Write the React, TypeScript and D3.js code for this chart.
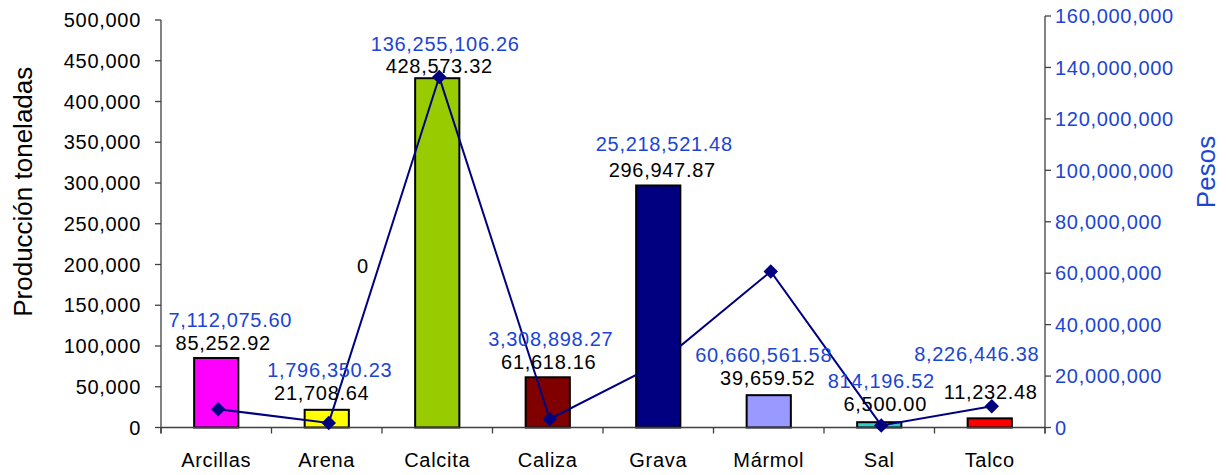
import React from "react";
import * as d3 from "d3";

const categories = ["Arcillas", "Arena", "Calcita", "Caliza", "Grava", "Mármol", "Sal", "Talco"];
const production = [85252.92, 21708.64, 428573.32, 61618.16, 296947.87, 39659.52, 6500.0, 11232.48];
const pesos = [7112075.6, 1796350.23, 136255106.26, 3308898.27, 25218521.48, 60660561.58, 814196.52, 8226446.38];
const barColors = ["#ff00ff", "#ffff00", "#99cc00", "#800000", "#000080", "#9999ff", "#33cccc", "#ff0000"];
const leftTicks = [0, 50000, 100000, 150000, 200000, 250000, 300000, 350000, 400000, 450000, 500000];
const rightTicks = [0, 20000000, 40000000, 60000000, 80000000, 100000000, 120000000, 140000000, 160000000];
const leftTitle = "Producción toneladas";
const rightTitle = "Pesos";
const strayLabel = "0";

// small manual label nudges (as in the original chart), [blackDx, blackDy, blueDx, blueDy]
const labelNudge: Record<string, [number, number, number, number]> = {
  Arcillas: [7, 0, 14, 0],
  Arena: [-5, -2, 3, 0],
  Calcita: [2, 3, 8, 1],
  Caliza: [1, 0, 3, 0],
  Grava: [4, 0, 6, -3],
  Mármol: [-1, -2, -5, 0],
  Sal: [6, -3, 2, 0],
  Talco: [1, -11, -13, -15],
};

const W = 1226;
const H = 475;
const X0 = 161;
const X1 = 1045;
const Y0 = 427.5;
const BLUE = "#1b45d3";
const FONT = "'Liberation Sans', Arial, sans-serif";

export default function App() {
  const x = d3
    .scaleBand<string>()
    .domain(categories)
    .range([X0, X1])
    .paddingInner(0.6)
    .paddingOuter(0.3);
  const step = x.step();
  const xc = (c: string) => (x(c) as number) + x.bandwidth() / 2;
  const yL = d3.scaleLinear().domain([0, 500000]).range([Y0, 20]);
  const yR = d3.scaleLinear().domain([0, 160000000]).range([Y0, 16]);

  const fmt2 = d3.format(",.2f");
  const fmt0 = d3.format(",");

  const line = d3
    .line<number>()
    .x((_, i) => xc(categories[i]) + 2)
    .y((d) => yR(d));

  const diamond = d3.symbol(d3.symbolSquare, 105)();

  const axisColor = "#404040";
  const txt = { fontFamily: FONT, fontSize: 20, letterSpacing: "0.7px" } as React.CSSProperties;

  return (
    <svg width={W} height={H} style={{ position: "absolute", left: 0, top: 0, background: "#fff" }}>
      {/* bars */}
      {categories.map((c, i) => (
        <rect
          key={c}
          x={x(c)}
          y={yL(production[i])}
          width={x.bandwidth()}
          height={Y0 - yL(production[i])}
          fill={barColors[i]}
          stroke="#000"
          strokeWidth={2}
        />
      ))}

      {/* axes */}
      <line x1={X0} x2={X1} y1={Y0} y2={Y0} stroke={axisColor} strokeWidth={1.3} />
      <line x1={X0} x2={X0} y1={yL(500000)} y2={Y0 + 6} stroke={axisColor} strokeWidth={1.3} />
      <line x1={X1} x2={X1} y1={yR(160000000)} y2={Y0 + 6} stroke={axisColor} strokeWidth={1.3} />
      {d3.range(categories.length + 1).map((i) => (
        <line key={"ct" + i} x1={X0 + i * step} x2={X0 + i * step} y1={Y0} y2={Y0 + 6} stroke={axisColor} strokeWidth={1.3} />
      ))}
      {leftTicks.map((t) => (
        <g key={"l" + t}>
          <line x1={X0 - 6} x2={X0} y1={yL(t)} y2={yL(t)} stroke={axisColor} strokeWidth={1.3} />
          <text x={X0 - 20} y={yL(t)} dy="0.36em" textAnchor="end" style={txt} fill="#000">
            {fmt0(t)}
          </text>
        </g>
      ))}
      {rightTicks.map((t) => (
        <g key={"r" + t}>
          <line x1={X1} x2={X1 + 6} y1={yR(t)} y2={yR(t)} stroke={axisColor} strokeWidth={1.3} />
          <text x={X1 + 10} y={yR(t)} dy="0.36em" textAnchor="start" style={txt} fill={BLUE}>
            {fmt0(t)}
          </text>
        </g>
      ))}
      {categories.map((c) => (
        <text key={"cl" + c} x={xc(c)} y={467} textAnchor="middle" style={txt} fill="#000">
          {c}
        </text>
      ))}

      {/* titles */}
      <text
        transform={`translate(31.5, ${(yL(500000) + Y0) / 2 - 32}) rotate(-90)`}
        textAnchor="middle"
        style={{ fontFamily: FONT, fontSize: 26 }}
        fill="#000"
      >
        {leftTitle}
      </text>
      <text
        transform={`translate(1215, 172) rotate(-90)`}
        textAnchor="middle"
        style={{ fontFamily: FONT, fontSize: 26 }}
        fill={BLUE}
      >
        {rightTitle}
      </text>

      {/* line */}
      <path d={line(pesos) || ""} fill="none" stroke="#000080" strokeWidth={2} />
      {pesos.map((v, i) => (
        <path
          key={"m" + i}
          d={diamond || ""}
          transform={`translate(${xc(categories[i]) + 2},${yR(v)}) rotate(45)`}
          fill="#000080"
        />
      ))}

      {/* labels */}
      {categories.map((c, i) => {
        const top = yL(production[i]);
        const [bdx, bdy, udx, udy] = labelNudge[c];
        return (
          <g key={"lab" + c}>
            <text x={xc(c) + bdx} y={top - 8 + bdy} textAnchor="middle" style={txt} fill="#000">
              {fmt2(production[i])}
            </text>
            <text x={xc(c) + udx} y={top - 31 + bdy + udy} textAnchor="middle" style={txt} fill={BLUE}>
              {fmt2(pesos[i])}
            </text>
          </g>
        );
      })}
      <text x={(xc("Arena") + xc("Calcita")) / 2 - 19} y={yL(190000)} textAnchor="middle" style={txt} fill="#000">
        {strayLabel}
      </text>
    </svg>
  );
}
